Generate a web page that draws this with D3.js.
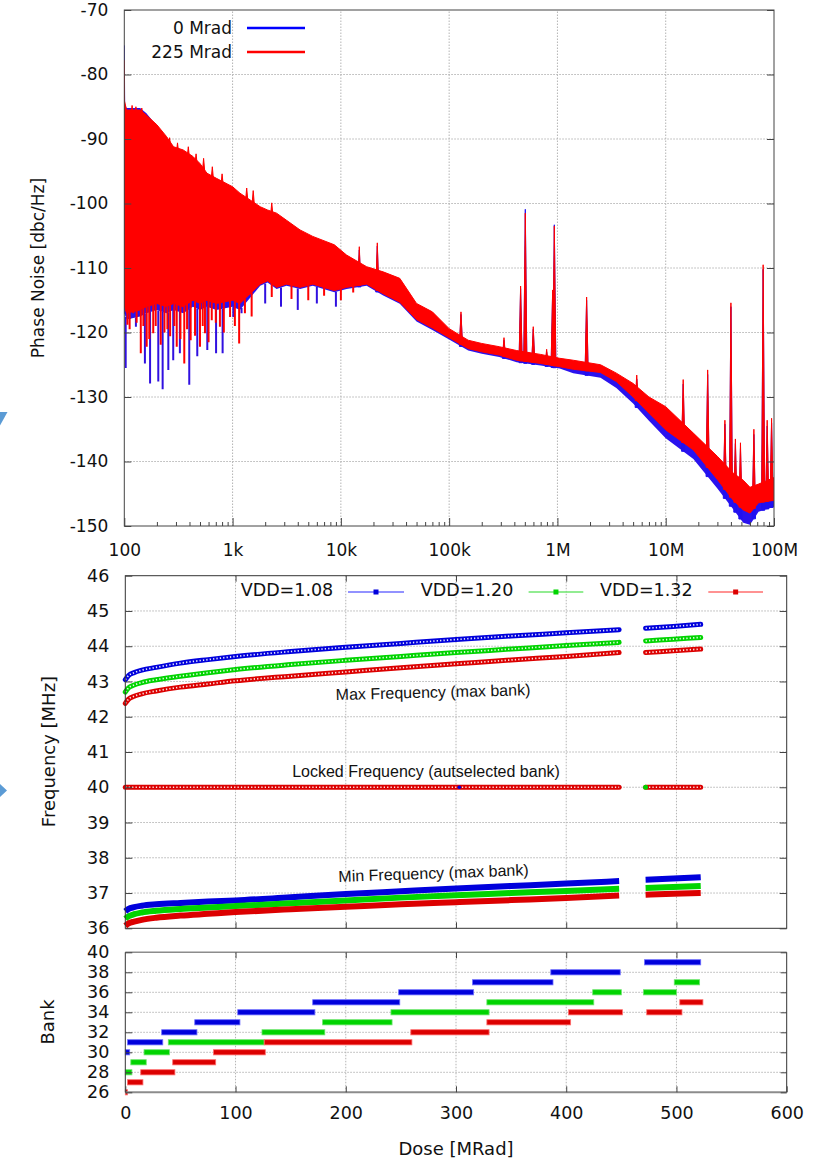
<!DOCTYPE html>
<html>
<head>
<meta charset="UTF-8">
<title>Phase noise and VCO frequency vs dose</title>
<style>
  body { margin: 0; background: #fff; }
  svg { display: block; background: #fff; font-family: "DejaVu Sans", sans-serif; }
  .gl { stroke: #b4b4b4; stroke-width: 1; stroke-dasharray: 1.5,1.5; }
</style>
</head>
<body>
<svg width="816" height="1161"></svg>
<script src="https://d3js.org/d3.v7.min.js"></script>
<script>

// ---------- phase noise spectrum ----------
const noiseFreq = [100, 105, 140, 160, 200, 245, 285, 350, 430, 500, 580, 710, 1000, 1170, 1800, 2100,
  2550, 3150, 4200, 5500, 8700, 11300, 17300, 24600, 35000, 50000, 70000, 100000, 150000, 200000,
  290000, 420000, 700000, 1050000, 1400000, 2500000, 3500000, 5000000, 7000000, 10000000,
  18000000, 30000000, 42000000, 52000000, 60000000, 72000000, 100000000];
const redHi = [-84, -85.5, -85.5, -86.3, -87.8, -89.6, -91.2, -91.7, -92.7, -93.8, -95.3, -96.1, -97.4, -98.4, -100.5, -101,
  -101.5, -102.6, -104.1, -105.1, -106.4, -108, -109.8, -110.6, -111.6, -115.5, -116.8, -119.4, -121.2, -121.7,
  -122.2, -122.8, -123.4, -124, -124.3, -125, -126.3, -127.9, -130, -131.5,
  -135.6, -139.2, -141.8, -142.9, -144, -143.5, -142.5];
const redLo = [-116, -117, -116.5, -116, -115.5, -116, -115.5, -116, -115, -115.5, -115, -115.5, -115, -115.5, -112.5, -112,
  -113, -112.5, -113, -112.5, -113.5, -113, -112.5, -114, -115.3, -118, -119.3, -120.8, -122.5, -123,
  -123.5, -124.3, -124.8, -125.3, -125.7, -126.2, -127.6, -130, -132.5, -135.1,
  -138.2, -142.8, -146, -147.5, -148, -146.4, -146];
const blueHi = [-84.5, -85.2, -85.2, -86.0, -88.0, -89.8, -91.4, -92.0, -93.0, -94.0, -95.5, -96.4, -97.6, -98.6, -100.8, -101.3,
  -101.8, -102.9, -104.4, -105.4, -106.8, -108.4, -110.2, -111.1, -112.2, -116.0, -117.4, -120.0, -121.8, -122.3,
  -122.8, -123.4, -124.0, -124.6, -125.0, -125.7, -127.0, -128.6, -130.8, -132.4,
  -136.5, -140.2, -142.9, -144.0, -145.0, -144.6, -143.5];
const blueLo = [-117, -118, -117.5, -117, -116.5, -117, -116.5, -117, -116, -116.5, -116, -116.5, -116, -116.5, -112.75, -112.25,
  -113.25, -112.75, -113.25, -112.75, -113.75, -113.25, -112.75, -114.25, -115.55, -118.3, -119.6, -121.1, -122.8, -123.3,
  -123.8, -124.6, -125.1, -125.6, -126.3, -127.0, -128.6, -131.0, -133.7, -136.4,
  -139.6, -144.2, -147.4, -149.5, -149.8, -147.8, -147];

// narrow peaks (spurs)
const spikeFreq = [100, 14800, 21700, 128600, 321000, 457000, 505000, 598000, 795000, 903000, 936000, 1860000,
  5400000, 14500000, 24400000, 35200000, 40000000, 44000000, 49000000, 65200000, 79400000, 86500000, 95000000];
const spikeRed = [-77.8, -106.7, -106.1, -116.8, -120.8, -112.8, -101.5, -119.1, -122.6, -113.4, -103.5, -114.5,
  -126.6, -127.3, -125.8, -133.6, -115.4, -136.5, -137.1, -135, -109.5, -133.6, -133.3];
const spikeBlue = [-75.5, -107.2, -106.6, -117.2, -121.2, -113.2, -100.9, -119.5, -123, -113.8, -103.3, -115,
  -127.2, -128, -126.5, -134.2, -116, -137.2, -138, -135.8, -110.2, -134.5, -134];

// small upward bumps on the top edge at low offsets
const bumpFreq = [118, 128, 145, 172, 190, 215, 262, 310, 390, 460, 540, 650, 800, 1350, 1550, 2300];
const bumpRed = [-84.8, -85.0, -85.2, -87.0, -88.0, -89.2, -89.8, -90.6, -91.2, -92.3, -93.0, -94.3, -95.4, -97.6, -98.0, -99.9];

// downward noise dips at low offsets
const dipFreqRed = [107, 112, 121, 130, 142, 150, 161, 170, 185, 195, 217, 235, 250, 265, 290, 305, 330, 358,
  380, 410, 450, 500, 530, 556, 600, 642, 700, 764, 830, 948, 1050, 1150, 1300, 1500,
  2300, 3500, 5000, 7000, 10000, 13000];
const dipRed = [-118.8, -119.5, -117, -118.5, -123.2, -119, -122.2, -121, -120.1, -119, -121.9, -120, -119.5, -120.6, -119, -122.2, -121, -124.8,
  -119.5, -121.2, -120.5, -122.2, -119, -120.1, -121.5, -118.1, -118.5, -119.1, -120, -117.6, -119, -121.7, -117, -117.5,
  -114.5, -114.8, -115, -114.3, -115, -113.8];
const dipFreqBlue = [103, 113, 128, 155, 173, 206, 226, 255, 283, 326, 398, 472, 584, 704, 809, 1015, 1210,
  2000, 2800, 4000, 6000, 9000];
const dipBlue = [-125.5, -117.6, -119.1, -124.8, -127.9, -127.6, -128.8, -125.8, -124.3, -123.2, -128.1, -123.7, -122.7, -123.2, -123.2, -117.6, -117,
  -115.5, -116, -116.5, -115.5, -116];

const freqTicks = [1e2, 1e3, 1e4, 1e5, 1e6, 1e7, 1e8];
const freqLabels = ["100", "1k", "10k", "100k", "1M", "10M", "100M"];
const noiseTicks = [-150, -140, -130, -120, -110, -100, -90, -80, -70];
const noiseSeries = ["0 Mrad", "225 Mrad"];

// ---------- frequency vs dose ----------
const doseA = [0, 3, 8, 15, 28, 50, 75, 100, 150, 200, 250, 300, 350, 400, 448];
const doseB = [472, 497, 522];
const maxBlueA = [43.05, 43.17, 43.25, 43.32, 43.40, 43.52, 43.62, 43.71, 43.85, 43.97, 44.08, 44.19, 44.29, 44.38, 44.47];
const maxGreenA = [42.70, 42.82, 42.90, 42.97, 43.05, 43.15, 43.25, 43.34, 43.48, 43.60, 43.71, 43.82, 43.92, 44.02, 44.11];
const maxRedA = [42.38, 42.50, 42.58, 42.65, 42.73, 42.84, 42.93, 43.02, 43.15, 43.27, 43.39, 43.50, 43.61, 43.71, 43.82];
const maxBlueB = [44.51, 44.56, 44.62];
const maxGreenB = [44.15, 44.20, 44.25];
const maxRedB = [43.82, 43.87, 43.92];
const minBlueA = [36.48, 36.55, 36.60, 36.64, 36.68, 36.72, 36.76, 36.79, 36.88, 36.97, 37.05, 37.13, 37.20, 37.27, 37.34];
const minGreenA = [36.27, 36.34, 36.40, 36.45, 36.50, 36.55, 36.59, 36.63, 36.71, 36.79, 36.87, 36.94, 37.00, 37.06, 37.12];
const minRedA = [36.07, 36.14, 36.19, 36.24, 36.30, 36.36, 36.41, 36.46, 36.54, 36.61, 36.68, 36.74, 36.80, 36.86, 36.93];
const minBlueB = [37.38, 37.41, 37.45];
const minGreenB = [37.14, 37.17, 37.20];
const minRedB = [36.95, 36.98, 37.00];
const lockedDose = [[0, 448], [472, 522]];
const lockedFreq = 40;
const lockedGreenDose = [472];
const lockedBlueDose = [303];
const vddLabels = ["VDD=1.08", "VDD=1.20", "VDD=1.32"];
const freqAxisTicks = [36, 37, 38, 39, 40, 41, 42, 43, 44, 45, 46];

// ---------- selected bank vs dose: [bank, from dose, to dose] ----------
const bankBlue = [[39, 471, 522], [38, 386, 449], [37, 315, 388], [36, 248, 316], [35, 170, 249],
  [34, 102, 172], [33, 63, 104], [32, 33, 65], [31, 2, 34], [30, 0, 4]];
const bankGreen = [[37, 498, 521], [36, 424, 450], [36, 470, 500], [35, 328, 425], [34, 241, 330],
  [33, 179, 242], [32, 124, 181], [31, 39, 126], [30, 17, 40], [29, 5, 19], [28, 0, 6]];
const bankRed = [[35, 503, 524], [34, 402, 451], [34, 473, 505], [33, 328, 404], [32, 259, 330],
  [31, 126, 260], [30, 80, 127], [29, 43, 82], [28, 14, 45], [27, 2, 16], [26, 0, 2]];
const bankTicks = [26, 28, 30, 32, 34, 36, 38, 40];
const doseTicks = [0, 100, 200, 300, 400, 500, 600];

const vddColors = ["#0000dc", "#00d400", "#dc0000"];
const vddLight = ["#6e6eff", "#6ee66e", "#ff6e6e"];

let svg = d3.select("svg");
const FONT = "DejaVu Sans, sans-serif";

function styleAxis(g, size) {
  g.select(".domain").remove();
  g.selectAll(".tick line").attr("stroke", "#444");
  g.attr("font-size", size).attr("font-family", FONT);
  g.selectAll("text").attr("fill", "#111");
}

// slide decoration triangles at the left edge
svg.append("path").attr("d", "M0,412 L7.5,412 L0,425.5 Z").attr("fill", "#5b9bd5");
svg.append("path").attr("d", "M0,784 L7,790.5 L0,797 Z").attr("fill", "#5b9bd5");

// =================== TOP: phase noise ===================
let xN = d3.scaleLog().domain([1e2, 1e8]).range([124.3, 774]);
let yN = d3.scaleLinear().domain([-150, -70]).range([526, 10]);

svg.append("clipPath").attr("id", "clipN").append("rect")
  .attr("x", 124.3).attr("y", 10).attr("width", 774 - 124.3).attr("height", 516);

let gN = svg.append("g");
gN.append("g").selectAll("line").data(freqTicks.slice(1, -1)).join("line")
  .attr("class", "gl").attr("x1", d => xN(d)).attr("x2", d => xN(d)).attr("y1", yN(-150)).attr("y2", yN(-70));
gN.append("g").selectAll("line").data(noiseTicks.slice(1, -1)).join("line")
  .attr("class", "gl").attr("y1", d => yN(d)).attr("y2", d => yN(d)).attr("x1", xN(1e2)).attr("x2", xN(1e8));

let plotN = gN.append("g").attr("clip-path", "url(#clipN)");
let idx = d3.range(noiseFreq.length);
let band = (hi, lo) => d3.area().x(i => xN(noiseFreq[i])).y0(i => yN(lo[i])).y1(i => yN(hi[i]))(idx);
let blueLoAt = d3.scaleLog().domain(noiseFreq).range(blueLo);
let redLoAt = d3.scaleLog().domain(noiseFreq).range(redLo);
let redHiAt = d3.scaleLog().domain(noiseFreq).range(redHi);

function spikePath(f, base, peak, hw) {
  let x = xN(f), yb = yN(base), yp = yN(peak);
  return `M${x - hw},${yb} L${x},${yp} L${x + hw},${yb} Z`;
}

// blue (0 Mrad) first, red (225 Mrad) over it
plotN.append("path").attr("d", band(blueHi, blueLo)).attr("fill", "#2a12ee");
plotN.append("g").selectAll("line").data(d3.zip(dipFreqBlue, dipBlue)).join("line")
  .attr("x1", d => xN(d[0])).attr("x2", d => xN(d[0]))
  .attr("y1", d => yN(d[1])).attr("y2", d => yN(blueLoAt(d[0])))
  .attr("stroke", "#3010e0").attr("stroke-width", 2);
plotN.append("g").selectAll("path").data(d3.zip(spikeFreq, spikeBlue)).join("path")
  .attr("d", d => spikePath(d[0], blueLoAt(d[0]), d[1], 1.6))
  .attr("fill", "#2010f0").attr("stroke", "#2010f0").attr("stroke-width", 1);

plotN.append("path").attr("d", band(redHi, redLo)).attr("fill", "#ff0000")
  .attr("stroke", "#ff0000").attr("stroke-width", 1);
plotN.append("g").selectAll("line").data(d3.zip(dipFreqRed, dipRed)).join("line")
  .attr("x1", d => xN(d[0])).attr("x2", d => xN(d[0]))
  .attr("y1", d => yN(d[1])).attr("y2", d => yN(redLoAt(d[0])))
  .attr("stroke", "#ff0000").attr("stroke-width", 2);
plotN.append("g").selectAll("path").data(d3.zip(bumpFreq, bumpRed)).join("path")
  .attr("d", d => spikePath(d[0], redHiAt(d[0]) - 2, d[1], 2))
  .attr("fill", "#ff0000").attr("stroke", "#ff0000").attr("stroke-width", 1);
plotN.append("g").selectAll("path").data(d3.zip(spikeFreq, spikeRed)).join("path")
  .attr("d", d => spikePath(d[0], redLoAt(d[0]), d[1], 1.5))
  .attr("fill", "#ff0000").attr("stroke", "#ff0000").attr("stroke-width", 1);

// frame + axes
gN.append("rect").attr("x", 124.3).attr("y", 10).attr("width", 774 - 124.3).attr("height", 516)
  .attr("fill", "none").attr("stroke", "#444").attr("stroke-width", 1);

let axL = gN.append("g").attr("transform", "translate(124.3,0)")
  .call(d3.axisLeft(yN).tickValues(noiseTicks).tickSize(-7).tickPadding(16).tickFormat(d => String(d)));
styleAxis(axL, 17);
let axR = gN.append("g").attr("transform", "translate(774,0)")
  .call(d3.axisRight(yN).tickValues(noiseTicks).tickSize(-7).tickFormat(""));
styleAxis(axR, 17);
let minorF = xN.ticks().filter(d => freqTicks.indexOf(d) < 0);
let axBm = gN.append("g").attr("transform", "translate(0,526)")
  .call(d3.axisBottom(xN).tickValues(minorF).tickSize(-4).tickFormat(""));
styleAxis(axBm, 17);
let axB = gN.append("g").attr("transform", "translate(0,526)")
  .call(d3.axisBottom(xN).tickValues(freqTicks).tickSize(-8).tickPadding(18)
    .tickFormat((d, i) => freqLabels[i]));
styleAxis(axB, 17);

gN.append("text").attr("transform", "translate(44,268) rotate(-90)")
  .attr("text-anchor", "middle").attr("font-size", 17).attr("fill", "#111")
  .text("Phase Noise [dbc/Hz]");

// legend
let legN = gN.append("g");
noiseSeries.forEach((s, i) => {
  let y = 28 + i * 24;
  legN.append("text").attr("x", 232).attr("y", y).attr("dy", "0.35em")
    .attr("text-anchor", "end").attr("font-size", 17).attr("fill", "#111").text(s);
  legN.append("line").attr("x1", 247).attr("x2", 305).attr("y1", y).attr("y2", y)
    .attr("stroke", i === 0 ? "#0000ff" : "#ff0000").attr("stroke-width", 2.5);
});

// =================== MIDDLE: frequency vs dose ===================
let xD = d3.scaleLinear().domain([0, 600]).range([125.3, 786.7]);
let yF = d3.scaleLinear().domain([36, 46]).range([928.3, 575.7]);
let yB = d3.scaleLinear().domain([26, 40]).range([1092.3, 952.3]);

let gF = svg.append("g");
gF.append("g").selectAll("line").data(doseTicks.slice(1, -1)).join("line")
  .attr("class", "gl").attr("x1", d => xD(d)).attr("x2", d => xD(d)).attr("y1", yF(36)).attr("y2", yF(46));
gF.append("g").selectAll("line").data(freqAxisTicks.slice(1, -1)).join("line")
  .attr("class", "gl").attr("y1", d => yF(d)).attr("y2", d => yF(d)).attr("x1", xD(0)).attr("x2", xD(600));

let lineF = d3.line().x(d => xD(d[0])).y(d => yF(d[1])).curve(d3.curveMonotoneX);

function beads(g, pts, color) {
  g.append("path").attr("d", lineF(pts)).attr("fill", "none")
    .attr("stroke", color).attr("stroke-width", 5).attr("stroke-linecap", "round");
  g.append("path").attr("d", lineF(pts)).attr("fill", "none")
    .attr("stroke", "#fff").attr("stroke-width", 1.7).attr("stroke-dasharray", "1.3,2.1").attr("opacity", 0.9);
}
function band6(g, pts, color) {
  g.append("path").attr("d", lineF(pts)).attr("fill", "none")
    .attr("stroke", color).attr("stroke-width", 6);
}

let maxA = [maxBlueA, maxGreenA, maxRedA], maxB = [maxBlueB, maxGreenB, maxRedB];
let minA = [minBlueA, minGreenA, minRedA], minB = [minBlueB, minGreenB, minRedB];
for (let i = 0; i < 3; i++) {
  beads(gF, d3.zip(doseA, maxA[i]), vddColors[i]);
  beads(gF, d3.zip(doseB, maxB[i]), vddColors[i]);
}
for (let i = 0; i < 3; i++) {
  band6(gF, d3.zip(doseA, minA[i]), vddColors[i]);
  band6(gF, d3.zip(doseB, minB[i]), vddColors[i]);
}
lockedDose.forEach(seg => {
  beads(gF, seg.map(d => [d, lockedFreq]), vddColors[2]);
});
gF.selectAll(".lg").data(lockedGreenDose).join("circle").attr("class", "lg")
  .attr("cx", d => xD(d)).attr("cy", yF(lockedFreq)).attr("r", 2.5).attr("fill", vddColors[1]);
gF.selectAll(".lb").data(lockedBlueDose).join("circle").attr("class", "lb")
  .attr("cx", d => xD(d)).attr("cy", yF(lockedFreq)).attr("r", 1.8).attr("fill", vddColors[0]);

// annotations
gF.append("text").attr("transform", "translate(433,692) rotate(-1.4)").attr("text-anchor", "middle")
  .attr("dy", "0.35em").attr("font-family", "Liberation Sans, Arial, sans-serif").attr("font-size", 16)
  .attr("fill", "#111").text("Max Frequency (max bank)");
gF.append("text").attr("transform", "translate(426,771)").attr("text-anchor", "middle")
  .attr("dy", "0.35em").attr("font-family", "Liberation Sans, Arial, sans-serif").attr("font-size", 16)
  .attr("fill", "#111").text("Locked Frequency (autselected bank)");
gF.append("text").attr("transform", "translate(433.5,873) rotate(-2)").attr("text-anchor", "middle")
  .attr("dy", "0.35em").attr("font-family", "Liberation Sans, Arial, sans-serif").attr("font-size", 16)
  .attr("fill", "#111").text("Min Frequency (max bank)");

// frame + axes
gF.append("rect").attr("x", xD(0)).attr("y", yF(46)).attr("width", xD(600) - xD(0)).attr("height", yF(36) - yF(46))
  .attr("fill", "none").attr("stroke", "#333").attr("stroke-width", 1);
let fL = gF.append("g").attr("transform", `translate(${xD(0)},0)`)
  .call(d3.axisLeft(yF).tickValues(freqAxisTicks).tickSize(-7).tickPadding(16).tickFormat(d => String(d)));
styleAxis(fL, 17.5);
let fR = gF.append("g").attr("transform", `translate(${xD(600)},0)`)
  .call(d3.axisRight(yF).tickValues(freqAxisTicks).tickSize(-7).tickFormat(""));
styleAxis(fR, 17.5);
let fT = gF.append("g").attr("transform", `translate(0,${yF(46)})`)
  .call(d3.axisTop(xD).tickValues(doseTicks.slice(1, -1)).tickSize(-6).tickFormat(""));
styleAxis(fT, 17.5);
let fB = gF.append("g").attr("transform", `translate(0,${yF(36)})`)
  .call(d3.axisBottom(xD).tickValues(doseTicks.slice(1, -1)).tickSize(-6).tickFormat(""));
styleAxis(fB, 17.5);

gF.append("text").attr("transform", "translate(48.5,751.5) rotate(-90)")
  .attr("text-anchor", "middle").attr("dy", "0.35em").attr("font-size", 18).attr("fill", "#111")
  .text("Frequency [MHz]");

// legend
const legTextX = [240.7, 420.8, 600];
const legLineX = [[348, 404], [528.6, 583.3], [708.3, 763]];
vddLabels.forEach((s, i) => {
  gF.append("text").attr("x", legTextX[i]).attr("y", 590).attr("dy", "0.35em")
    .attr("font-size", 17.5).attr("fill", "#111").text(s);
  gF.append("line").attr("x1", legLineX[i][0]).attr("x2", legLineX[i][1]).attr("y1", 592).attr("y2", 592)
    .attr("stroke", vddLight[i]).attr("stroke-width", 1.4);
  let cx = (legLineX[i][0] + legLineX[i][1]) / 2;
  gF.append("rect").attr("x", cx - 2.5).attr("y", 589.5).attr("width", 5).attr("height", 5)
    .attr("fill", vddColors[i]);
});

// =================== BOTTOM: selected bank ===================
let gB = svg.append("g");
gB.append("g").selectAll("line").data(doseTicks.slice(1, -1)).join("line")
  .attr("class", "gl").attr("x1", d => xD(d)).attr("x2", d => xD(d)).attr("y1", yB(26)).attr("y2", yB(40));
gB.append("g").selectAll("line").data(bankTicks.slice(1, -1)).join("line")
  .attr("class", "gl").attr("y1", d => yB(d)).attr("y2", d => yB(d)).attr("x1", xD(0)).attr("x2", xD(600));

[bankBlue, bankGreen, bankRed].forEach((bars, i) => {
  gB.append("g").selectAll("rect").data(bars).join("rect")
    .attr("x", d => xD(d[1])).attr("width", d => xD(d[2]) - xD(d[1]))
    .attr("y", d => yB(d[0]) - 2.6).attr("height", 5.2)
    .attr("fill", vddColors[i]).attr("stroke", vddLight[i]).attr("stroke-width", 0.8);
});

gB.append("line").attr("x1", xD(0)).attr("x2", xD(600)).attr("y1", yB(40)).attr("y2", yB(40))
  .attr("stroke", "#8c8c8c").attr("stroke-width", 1.6);
gB.append("line").attr("x1", xD(0)).attr("x2", xD(600)).attr("y1", yB(26)).attr("y2", yB(26))
  .attr("stroke", "#8c8c8c").attr("stroke-width", 2);
gB.append("line").attr("x1", xD(0)).attr("x2", xD(0)).attr("y1", yB(40)).attr("y2", yB(26))
  .attr("stroke", "#333").attr("stroke-width", 1);
gB.append("line").attr("x1", xD(600)).attr("x2", xD(600)).attr("y1", yB(40)).attr("y2", yB(26))
  .attr("stroke", "#333").attr("stroke-width", 1);

let bL = gB.append("g").attr("transform", `translate(${xD(0)},0)`)
  .call(d3.axisLeft(yB).tickValues(bankTicks).tickSize(-7).tickPadding(16).tickFormat(d => String(d)));
styleAxis(bL, 17.5);
let bR = gB.append("g").attr("transform", `translate(${xD(600)},0)`)
  .call(d3.axisRight(yB).tickValues(bankTicks).tickSize(-6).tickFormat(""));
styleAxis(bR, 17.5);
let bT = gB.append("g").attr("transform", `translate(0,${yB(40)})`)
  .call(d3.axisTop(xD).tickValues(doseTicks.slice(1, -1)).tickSize(-6).tickFormat(""));
styleAxis(bT, 17.5);
let bB = gB.append("g").attr("transform", `translate(0,${yB(26)})`)
  .call(d3.axisBottom(xD).tickValues(doseTicks).tickSize(-6).tickPadding(14).tickFormat(d => String(d)));
styleAxis(bB, 17.5);

gB.append("text").attr("transform", "translate(47.7,1022) rotate(-90)")
  .attr("text-anchor", "middle").attr("dy", "0.35em").attr("font-size", 18).attr("fill", "#111")
  .text("Bank");
gB.append("text").attr("x", 456).attr("y", 1148.3).attr("dy", "0.35em")
  .attr("text-anchor", "middle").attr("font-size", 18).attr("fill", "#111")
  .text("Dose [MRad]");

</script>
</body>
</html>
